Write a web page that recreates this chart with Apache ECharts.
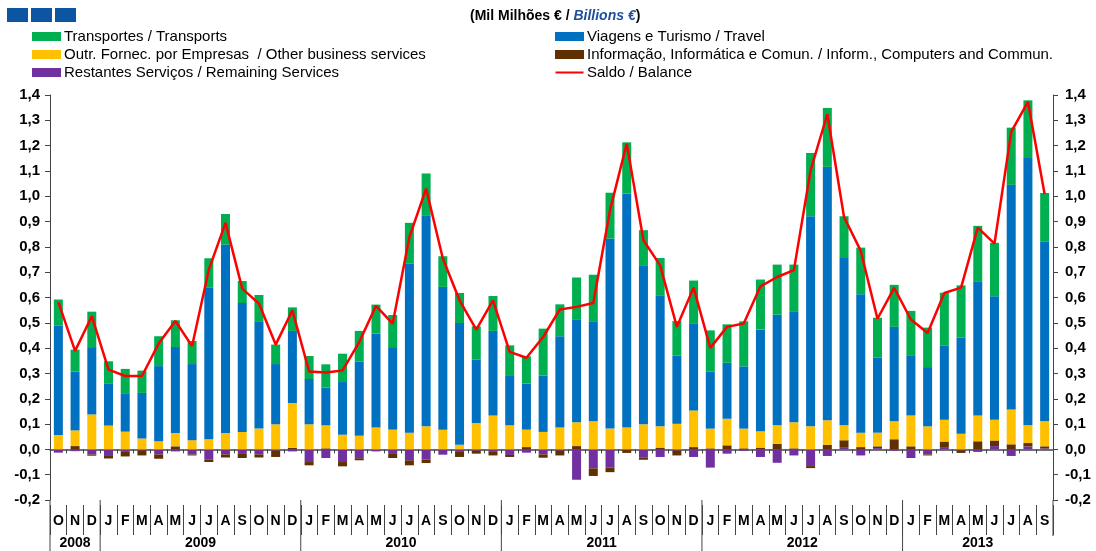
<!DOCTYPE html>
<html><head><meta charset="utf-8">
<script src="https://cdn.jsdelivr.net/npm/echarts@6/dist/echarts.min.js"></script>
<style>html,body{margin:0;padding:0;background:#fff}#c{width:1096px;height:551px}</style>
</head><body><div id="c"></div>
<script>
const months = ['O','N','D','J','F','M','A','M','J','J','A','S','O','N','D','J','F','M','A','M','J','J','A','S','O','N','D','J','F','M','A','M','J','J','A','S','O','N','D','J','F','M','A','M','J','J','A','S','O','N','D','J','F','M','A','M','J','J','A','S'];
const years = [['2008',0,2],['2009',3,14],['2010',15,26],['2011',27,38],['2012',39,50],['2013',51,59]];
const remaining = [-0.013,-0.007,-0.02,-0.026,-0.01,-0.005,-0.02,-0.008,-0.02,-0.041,-0.02,-0.018,-0.02,-0.005,-0.008,-0.05,-0.034,-0.05,-0.035,-0.008,-0.018,-0.043,-0.04,-0.021,-0.01,-0.005,-0.01,-0.022,-0.013,-0.02,-0.005,-0.12,-0.075,-0.072,0,-0.033,-0.03,-0.005,-0.03,-0.072,-0.017,-0.005,-0.03,-0.053,-0.024,-0.066,-0.026,0.009,-0.024,0.005,-0.005,-0.034,-0.02,0.009,-0.004,-0.01,0.013,-0.026,0.012,0.004];
const computers = [0,0.013,-0.005,-0.01,-0.018,-0.019,-0.017,0.012,-0.004,-0.009,-0.012,-0.016,-0.012,-0.025,0.006,-0.013,0.004,-0.017,-0.008,0,-0.016,-0.02,-0.014,0,-0.02,-0.012,-0.014,-0.008,0.009,-0.013,-0.019,0.013,-0.03,-0.018,-0.014,-0.008,0.007,-0.019,0.009,0.004,0.016,0.004,0.007,0.022,0.004,-0.008,0.018,0.027,0.009,0.007,0.04,0.012,-0.004,0.022,-0.01,0.032,0.022,0.02,0.013,0.008];
const business = [0.057,0.062,0.138,0.094,0.07,0.043,0.032,0.053,0.036,0.04,0.065,0.069,0.082,0.099,0.177,0.099,0.091,0.058,0.054,0.086,0.078,0.066,0.091,0.078,0.018,0.104,0.134,0.095,0.069,0.069,0.086,0.094,0.111,0.082,0.086,0.099,0.084,0.101,0.145,0.078,0.105,0.078,0.065,0.073,0.103,0.091,0.097,0.059,0.057,0.054,0.071,0.122,0.091,0.086,0.062,0.102,0.082,0.138,0.07,0.099];
const travel = [0.432,0.232,0.266,0.167,0.149,0.18,0.297,0.339,0.301,0.598,0.744,0.509,0.424,0.238,0.285,0.179,0.149,0.208,0.293,0.371,0.326,0.668,0.834,0.564,0.481,0.25,0.334,0.195,0.182,0.223,0.361,0.407,0.395,0.751,0.925,0.628,0.518,0.269,0.344,0.226,0.221,0.246,0.401,0.437,0.436,0.83,1.001,0.661,0.547,0.296,0.373,0.238,0.234,0.294,0.379,0.53,0.488,0.887,1.056,0.709];
const transports = [0.103,0.087,0.14,0.087,0.099,0.088,0.118,0.106,0.091,0.117,0.121,0.087,0.104,0.077,0.093,0.091,0.092,0.112,0.121,0.115,0.127,0.161,0.165,0.121,0.119,0.132,0.138,0.121,0.108,0.185,0.126,0.165,0.184,0.181,0.202,0.139,0.147,0.137,0.169,0.162,0.152,0.178,0.198,0.198,0.187,0.25,0.233,0.165,0.184,0.158,0.166,0.175,0.156,0.208,0.207,0.219,0.211,0.226,0.228,0.193];
const balance = [0.582,0.389,0.526,0.315,0.29,0.29,0.418,0.507,0.408,0.71,0.895,0.635,0.576,0.414,0.549,0.308,0.304,0.312,0.424,0.567,0.497,0.839,1.03,0.754,0.589,0.473,0.589,0.385,0.362,0.444,0.553,0.563,0.578,0.945,1.208,0.826,0.727,0.484,0.639,0.401,0.484,0.497,0.644,0.681,0.708,1.103,1.324,0.918,0.784,0.516,0.638,0.513,0.46,0.618,0.639,0.876,0.813,1.254,1.373,1.008];
const yTicks = {min:-0.2, max:1.4, interval:0.1};

const names = {
  g:'Transportes / Transports',
  y:'Outr. Fornec. por Empresas  / Other business services',
  p:'Restantes Serviços / Remaining Services',
  b:'Viagens e Turismo / Travel',
  br:'Informação, Informática e Comun. / Inform., Computers and Commun.',
  r:'Saldo / Balance'
};
const FONT = 'Liberation Sans Narrow, Liberation Sans, Arial, sans-serif';
const NUM = 'Liberation Sans, Arial, sans-serif';
const fmt = v => (Math.round(v*10)/10).toFixed(1).replace('.', ',');
const barW = 9;
function bar(name, data, color){
  return {name, type:'bar', stack:'s', data, barWidth:barW, itemStyle:{color}, xAxisIndex:0, yAxisIndex:0};
}
const chart = echarts.init(document.getElementById('c'), null, {renderer:'canvas'});
const legendText = {fontFamily:FONT, fontSize:15, color:'#000', padding:[0,0,0,-2]};
const lineIcon = 'path://M0,0 h0.05 v0.05 h-0.05 Z M0,3.6 H28 V5.6 H0 Z M0,8.95 h0.05 v0.05 h-0.05 Z';
const yAx = (pos) => ({
  type:'value', position:pos, min:yTicks.min, max:yTicks.max, interval:yTicks.interval,
  axisLine:{show:true, lineStyle:{color:'#444', width:1}},
  axisTick:{show:true, length:5, lineStyle:{color:'#444'}},
  splitLine:{show:false},
  axisLabel:{formatter:fmt, fontFamily:NUM, fontWeight:'bold', fontSize:15, color:'#000', margin:pos==='left'?10:12}
});
chart.setOption({
  animation:false,
  backgroundColor:'#fff',
  grid:{left:50, right:43, top:95, bottom:51},
  title:{
    text:'{a|(Mil Milhões € / }{b|Billions €}{a|)}',
    left:470, top:9, padding:0,
    textStyle:{rich:{
      a:{fontFamily:FONT, fontWeight:'bold', fontSize:14, color:'#000'},
      b:{fontFamily:FONT, fontWeight:'bold', fontStyle:'italic', fontSize:14, color:'#1f4e9c'}
    }}
  },
  legend:[
    {orient:'vertical', left:32, top:29, padding:0, itemWidth:29, itemHeight:9, itemGap:3, icon:'rect',
     data:[names.g, names.y, names.p], textStyle:legendText},
    {orient:'vertical', left:555, top:29, padding:0, itemWidth:29, itemHeight:9, itemGap:3,
     data:[{name:names.b, icon:'rect'}, {name:names.br, icon:'rect'}, {name:names.r, icon:lineIcon}], textStyle:legendText}
  ],
  xAxis:[
    {type:'category', data:months, gridIndex:0, position:'bottom',
     axisLine:{onZero:true, lineStyle:{color:'#444', width:1.5}},
     axisTick:{show:true, interval:0, length:4, lineStyle:{color:'#444'}},
     axisLabel:{show:false}, splitLine:{show:false}},
    {type:'category', data:months, gridIndex:0, position:'bottom', offset:5,
     axisLine:{show:false, onZero:false},
     axisTick:{show:true, interval:0, length:30, lineStyle:{color:'#444'}},
     axisLabel:{interval:0, fontFamily:NUM, fontWeight:'bold', fontSize:14, color:'#000', margin:9}}
  ],
  yAxis:[yAx('left'), yAx('right')],
  series:[
    bar(names.p, remaining, '#7030a0'),
    bar(names.br, computers, '#5f3000'),
    bar(names.y, business, '#ffc000'),
    bar(names.b, travel, '#0070c0'),
    bar(names.g, transports, '#00b050'),
    {name:names.r, type:'line', data:balance, symbol:'none', showSymbol:false, z:5,
     lineStyle:{color:'#ff0000', width:2.5}, itemStyle:{color:'#ff0000'}}
  ]
});

// year labels and separators placed through the category scale
function px(i){ return chart.convertToPixel({xAxisIndex:0}, i); }
const step = px(1) - px(0);
const gfx = [];
// logo squares
[7,31,55].forEach(x => gfx.push({type:'rect', shape:{x:x, y:8, width:21, height:14}, style:{fill:'#0b55a3'}}));
years.forEach(([lab, a, b]) => {
  const xc = (px(a) + px(b)) / 2;
  gfx.push({type:'text', style:{text:lab, x:xc, y:543, textAlign:'center', textVerticalAlign:'middle',
    font:'bold 14px ' + NUM, fill:'#000'}});
  const xl = px(a) - step/2;
  gfx.push({type:'line', shape:{x1:xl, y1:500, x2:xl, y2:551}, style:{stroke:'#444', lineWidth:1}});
});
const xr = px(59) + step/2;
gfx.push({type:'line', shape:{x1:xr, y1:500, x2:xr, y2:536}, style:{stroke:'#444', lineWidth:1}});
chart.setOption({graphic:gfx});
</script></body></html>
